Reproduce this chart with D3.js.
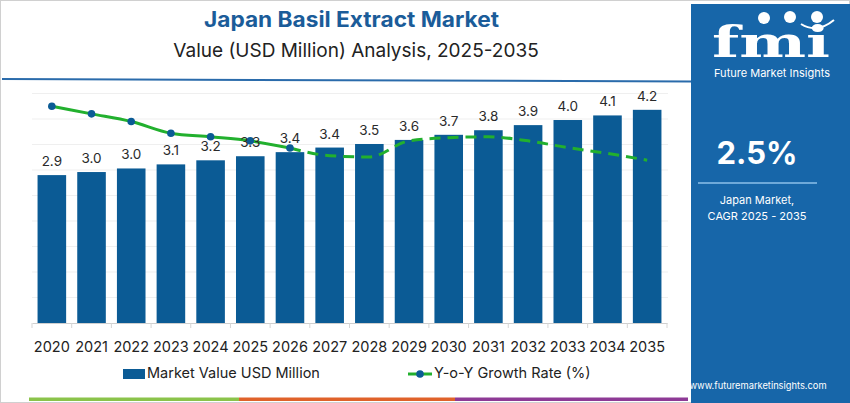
<!DOCTYPE html>
<html><head><meta charset="utf-8">
<script src="https://cdn.jsdelivr.net/npm/d3@7"></script>
<style>body{margin:0;background:#fff}svg{display:block;font-family:Inter,"Open Sans",sans-serif}</style>
</head><body><svg id="c" width="850" height="403"></svg>
<script>
const years = ["2020","2021","2022","2023","2024","2025","2026","2027","2028","2029","2030","2031","2032","2033","2034","2035"];
const marketValue = [2.90,2.96,3.03,3.11,3.19,3.27,3.35,3.44,3.51,3.59,3.69,3.78,3.88,3.98,4.07,4.18];
const valueLabels = ["2.9","3.0","3.0","3.1","3.2","3.3","3.4","3.4","3.5","3.6","3.7","3.8","3.9","4.0","4.1","4.2"];
const yoyGrowth = [3.24,3.07,2.90,2.64,2.56,2.47,2.31,2.14,2.11,2.47,2.54,2.56,2.47,2.32,2.19,2.04];
const yTicks = [0,0.5,1,1.5,2,2.5,3,3.5,4,4.5];
const lastActualIndex = 6;

const svg = d3.select("#c");
svg.append("rect").attr("x",0.5).attr("y",0.5).attr("width",849).attr("height",402).attr("fill","#fff").attr("stroke","#d0d0d0");

const x = d3.scaleBand().domain(years).range([32,667]).paddingInner(0.28).paddingOuter(0.14);
const y = d3.scaleLinear().domain([0,4.5]).range([323,93.5]);
const yG = d3.scaleLinear().domain([1.8,3.4]).range([171,99]);

// grid
svg.append("g").selectAll("line").data(yTicks.slice(1)).join("line")
  .attr("x1",32).attr("x2",668).attr("y1",d=>y(d)).attr("y2",d=>y(d))
  .attr("stroke","#efefef").attr("stroke-width",1);

// axis
const ax = svg.append("g").attr("transform","translate(0,323)")
  .call(d3.axisBottom(x).tickSize(0).tickPadding(19));
ax.select(".domain").attr("stroke","#cfcfcf");
ax.selectAll("text").attr("font-size",14.5).attr("fill","#222").attr("font-family","Inter,sans-serif");
const step = x.step();
svg.append("g").selectAll("line").data(d3.range(years.length+1)).join("line")
  .attr("x1",i=>32+(i===years.length?635:i*step)).attr("x2",i=>32+(i===years.length?635:i*step))
  .attr("y1",323).attr("y2",328).attr("stroke","#d5d5d5");

// bars
svg.append("g").selectAll("rect").data(marketValue).join("rect")
  .attr("x",(d,i)=>x(years[i])).attr("width",x.bandwidth())
  .attr("y",d=>y(d)).attr("height",d=>y(0)-y(d)).attr("fill","#0b5b95");

// line
const pts = yoyGrowth.map((g,i)=>[x(years[i])+x.bandwidth()/2, yG(g)]);
const lineGen = d3.line().curve(d3.curveMonotoneX);
svg.append("path").attr("d",lineGen(pts.slice(0,lastActualIndex+1)))
  .attr("fill","none").attr("stroke","#22b02e").attr("stroke-width",3);
svg.append("path").attr("d",lineGen(pts.slice(lastActualIndex)))
  .attr("fill","none").attr("stroke","#22b02e").attr("stroke-width",3).attr("stroke-dasharray","11,7");
svg.append("g").selectAll("circle").data(pts.slice(0,lastActualIndex+1)).join("circle")
  .attr("cx",d=>d[0]).attr("cy",d=>d[1]).attr("r",3.8).attr("fill","#0b5b95");

// bar labels
svg.append("g").selectAll("text").data(valueLabels).join("text")
  .attr("x",(d,i)=>x(years[i])+x.bandwidth()/2).attr("y",(d,i)=>y(marketValue[i])-9)
  .attr("text-anchor","middle").attr("font-size",13.5).attr("fill","#2a2a2a").text(d=>d);

// title
svg.append("text").attr("x",204).attr("y",27)
  .attr("font-size",21).attr("font-weight",700).attr("fill","#1b5c99")
  .attr("textLength",295).attr("lengthAdjust","spacingAndGlyphs").text("Japan Basil Extract Market");
svg.append("text").attr("x",356).attr("y",57).attr("text-anchor","middle")
  .attr("font-size",19).attr("fill","#222").text("Value (USD Million) Analysis, 2025-2035");
svg.append("line").attr("x1",2).attr("y1",79).attr("x2",691).attr("y2",81.5).attr("stroke","#2a6bab").attr("stroke-width",2);

// legend
svg.append("rect").attr("x",123).attr("y",369).attr("width",22).attr("height",10).attr("fill","#0b5b95");
svg.append("text").attr("x",147).attr("y",378).attr("font-size",14.5).attr("fill","#222").text("Market Value USD Million");
svg.append("line").attr("x1",408).attr("x2",432).attr("y1",374).attr("y2",374).attr("stroke","#22b02e").attr("stroke-width",3);
svg.append("circle").attr("cx",420).attr("cy",374).attr("r",3.8).attr("fill","#0b5b95");
svg.append("text").attr("x",434).attr("y",378).attr("font-size",14.5).attr("fill","#222").text("Y-o-Y Growth Rate (%)");

// bottom stripe
const stripe = [[29,239,"#8bc34a"],[239,455,"#e0622a"],[455,688,"#8e3a96"]];
svg.append("g").selectAll("rect").data(stripe).join("rect")
  .attr("x",d=>d[0]).attr("y",397.5).attr("width",d=>d[1]-d[0]).attr("height",3.5).attr("fill",d=>d[2]);

// right panel
svg.append("rect").attr("x",691).attr("y",4).attr("width",159).attr("height",399).attr("fill","#1766a9");
svg.append("text").attr("x",712).attr("y",57)
  .attr("font-family","'DejaVu Serif',serif").attr("font-weight",700).attr("font-size",42).attr("fill","#fff")
  .attr("textLength",118).attr("lengthAdjust","spacingAndGlyphs").text("fmi");
svg.append("g").selectAll("circle").data([[764,18],[790,17],[817,17]]).join("circle")
  .attr("cx",d=>d[0]).attr("cy",d=>d[1]).attr("r",6).attr("fill","#fff");
svg.append("path").attr("d","M801,24 Q817,34 834,20").attr("fill","none").attr("stroke","#fff").attr("stroke-width",2);
svg.append("text").attr("x",772).attr("y",77).attr("text-anchor","middle")
  .attr("font-size",11).attr("fill","#fff").text("Future Market Insights");
svg.append("text").attr("x",757).attr("y",164).attr("text-anchor","middle")
  .attr("font-size",31).attr("font-weight",700).attr("fill","#fff").text("2.5%");
svg.append("line").attr("x1",698).attr("x2",817).attr("y1",183).attr("y2",183).attr("stroke","#8cc0ea").attr("stroke-width",1.5);
svg.append("text").attr("x",757).attr("y",204).attr("text-anchor","middle")
  .attr("font-size",11).attr("fill","#fff").text("Japan Market,");
svg.append("text").attr("x",757).attr("y",220).attr("text-anchor","middle")
  .attr("font-size",11).attr("fill","#fff").text("CAGR 2025 - 2035");
svg.append("text").attr("x",758).attr("y",389).attr("text-anchor","middle")
  .attr("font-size",9.3).attr("fill","#fff").text("www.futuremarketinsights.com");
</script></body></html>
